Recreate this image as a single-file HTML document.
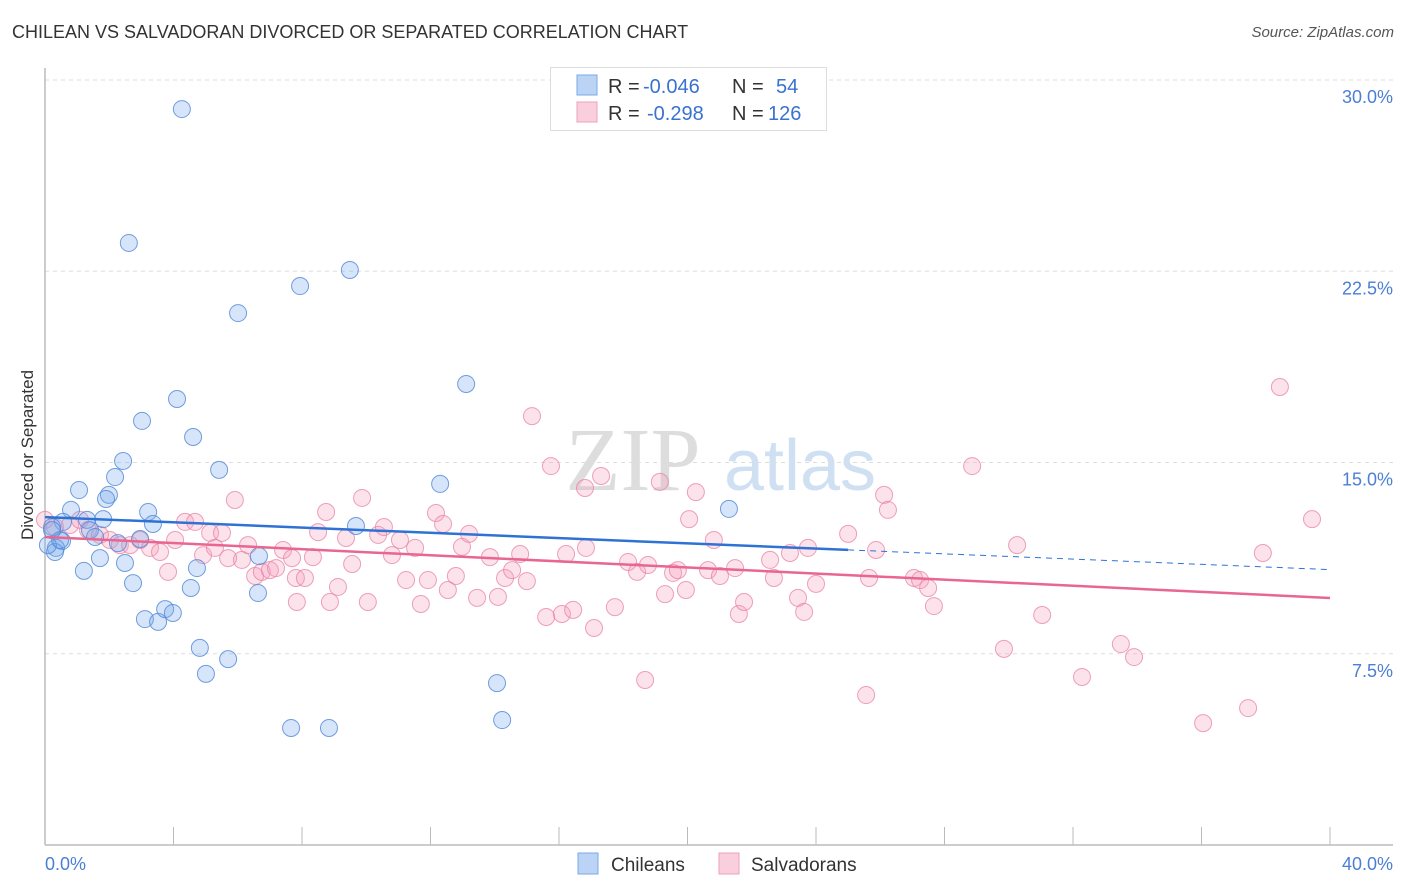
<!DOCTYPE html>
<html><head><meta charset="utf-8">
<style>
body{margin:0;background:#fff;font-family:"Liberation Sans",sans-serif;}
#wrap{position:relative;width:1406px;height:892px;overflow:hidden;}
.t{position:absolute;white-space:nowrap;}
</style></head>
<body>
<div id="wrap">
<div class="t" style="left:12px;top:22px;font-size:18px;color:#333;">CHILEAN VS SALVADORAN DIVORCED OR SEPARATED CORRELATION CHART</div>
<div class="t" style="right:12px;top:24px;font-size:15px;color:#555;font-style:italic;">Source: ZipAtlas.com</div>
<svg id="chart" width="1406" height="892" style="position:absolute;left:0;top:0"></svg>
</div>
<script>
const xTicks=[0,4,8,12,16,20,24,28,32,36,40];
const yTicks=[7.5,15,22.5,30];
const yTickLabels=["7.5%","15.0%","22.5%","30.0%"];
const chileX=[4.26,2.61,9.49,7.94,6.01,13.11,4.11,3.02,4.61,2.43,5.42,2.18,12.30,1.06,1.99,1.90,3.21,21.29,0.81,1.81,3.36,9.68,1.31,0.56,0.22,1.40,1.56,2.27,2.96,0.53,0.34,6.66,2.49,4.73,0.31,1.21,2.74,4.54,6.63,3.11,3.52,3.74,3.98,4.82,5.70,5.01,14.07,7.66,8.84,14.23,0.09,1.71,0.47,0.22];
const chileY=[28.86,23.61,22.55,21.92,20.86,18.08,17.49,16.63,16.00,15.06,14.71,14.43,14.16,13.92,13.73,13.57,13.06,13.18,13.14,12.78,12.59,12.51,12.75,12.67,12.47,12.35,12.08,11.84,12.00,11.92,11.65,11.33,11.06,10.86,11.49,10.75,10.27,10.08,9.88,8.86,8.75,9.25,9.10,7.73,7.29,6.71,6.35,4.59,4.59,4.90,11.76,11.25,11.96,12.35];
const salvX=[0.00,0.31,0.78,1.09,1.34,1.71,2.02,2.33,2.65,2.96,3.27,3.58,3.83,4.05,4.36,4.67,4.92,5.14,5.29,5.51,5.91,5.70,6.13,6.32,6.54,6.75,7.00,7.19,7.41,7.69,7.81,8.09,7.84,8.34,8.50,8.75,8.87,9.12,9.37,9.56,9.87,10.05,10.37,10.55,10.80,11.05,11.24,11.52,11.70,11.92,12.17,12.39,12.54,12.79,12.98,13.20,13.45,13.85,14.10,14.32,14.54,14.79,15.00,15.16,15.60,15.75,16.09,16.22,16.44,16.81,16.84,17.09,17.31,17.74,18.15,18.43,18.68,18.77,19.14,19.30,19.55,19.70,19.95,20.05,20.26,20.64,20.82,21.01,21.48,21.60,21.76,22.57,22.69,23.19,23.44,23.63,23.75,24.00,25.00,25.56,25.65,25.87,26.12,26.24,27.05,27.24,27.49,27.67,28.86,30.26,31.04,29.85,32.28,33.49,33.90,36.05,37.45,37.91,38.44,39.44];
const salvY=[12.75,12.47,12.55,12.75,12.35,12.16,11.96,11.76,11.76,11.96,11.65,11.49,10.71,11.96,12.67,12.67,11.37,12.24,11.65,12.24,13.53,11.25,11.18,11.76,10.55,10.71,10.78,10.86,11.57,11.25,10.47,10.47,9.53,11.29,12.27,13.06,9.53,10.12,12.04,11.02,13.61,9.53,12.16,12.47,11.37,11.96,10.39,11.65,9.45,10.39,13.02,12.59,10.00,10.55,11.69,12.20,9.69,11.29,9.73,10.47,10.78,11.41,10.35,16.82,8.94,14.86,9.06,11.41,9.22,14.00,11.65,8.51,14.47,9.33,11.10,10.71,6.47,10.98,14.24,9.84,10.67,10.78,10.00,12.78,13.84,10.78,11.96,10.55,10.86,9.06,9.53,11.18,10.47,11.45,9.69,9.14,11.65,10.24,12.20,5.88,10.47,11.57,13.73,13.14,10.47,10.39,10.08,9.37,14.86,11.76,9.02,7.69,6.59,7.88,7.37,4.78,5.37,11.45,17.96,12.78];
const chileTrend=[12.86,-0.0515];
const salvTrend=[12.08,-0.0598];
const chileTrendEnd=25;

const NS="http://www.w3.org/2000/svg";
const svg=document.getElementById('chart');
const X0=45,X1=1330,Y0=845,YPER=25.5;
function sx(v){return X0+(v/40)*(X1-X0);}
function sy(v){return Y0-v*YPER;}
function mk(tag,attrs,parent){const e=document.createElementNS(NS,tag);for(const k in attrs)e.setAttribute(k,attrs[k]);(parent||svg).appendChild(e);return e;}

// watermark
const wm1=mk('text',{x:633,y:490,'font-size':90,'font-family':'Liberation Serif, serif',fill:'#ddd','text-anchor':'middle'});
wm1.textContent='ZIP';


const wm2=mk('text',{x:800,y:490,'font-size':72,'font-family':'Liberation Sans, sans-serif',fill:'#cfe0f3','text-anchor':'middle'});
wm2.textContent='atlas';



// gridlines + y labels
yTicks.forEach((v,i)=>{
  const g=mk('line',{x1:X0,x2:1393,y1:sy(v),y2:sy(v),stroke:'#ddd','stroke-dasharray':'4,4'});
  
  
  const t=mk('text',{x:1393,y:sy(v)+23,'font-size':18,fill:'#4a7fd4','text-anchor':'end','font-family':'Liberation Sans, sans-serif'});
  t.textContent=yTickLabels[i];
  
  
});
// axes
const ya=mk('line',{x1:X0,x2:X0,y1:68,y2:Y0,stroke:'#bbb','stroke-width':1.5});


const xa=mk('line',{x1:X0,x2:1393,y1:Y0,y2:Y0,stroke:'#bbb','stroke-width':1.5});


xTicks.forEach(v=>{
  const t=mk('line',{x1:sx(v),x2:sx(v),y1:Y0,y2:Y0-18,stroke:'#bbb'});
  
  
});
const xl0=mk('text',{x:45,y:870,'font-size':18,fill:'#4a7fd4','font-family':'Liberation Sans, sans-serif'});
xl0.textContent='0.0%';


const xl1=mk('text',{x:1393,y:870,'font-size':18,fill:'#4a7fd4','text-anchor':'end','font-family':'Liberation Sans, sans-serif'});
xl1.textContent='40.0%';


const yt=mk('text',{x:0,y:0,'font-size':17,fill:'#333','text-anchor':'middle',transform:'translate(33,455) rotate(-90)','font-family':'Liberation Sans, sans-serif'});
yt.textContent='Divorced or Separated';



// points
salvX.forEach((x,i)=>{
  const c=mk('circle',{cx:sx(x),cy:sy(salvY[i]),r:8.5,fill:'rgba(244,160,190,0.3)',stroke:'rgba(232,130,165,0.75)','stroke-width':1});
  
  
});
chileX.forEach((x,i)=>{
  const c=mk('circle',{cx:sx(x),cy:sy(chileY[i]),r:8.5,fill:'rgba(120,170,235,0.3)',stroke:'rgba(80,135,215,0.8)','stroke-width':1});
  
  
});
// trends
const ct=mk('line',{x1:sx(0),y1:sy(chileTrend[0]),x2:sx(chileTrendEnd),y2:sy(chileTrend[0]+chileTrend[1]*chileTrendEnd),stroke:'#2f72d6','stroke-width':2.5});


const cd=mk('line',{x1:sx(chileTrendEnd),y1:sy(chileTrend[0]+chileTrend[1]*chileTrendEnd),x2:sx(40),y2:sy(chileTrend[0]+chileTrend[1]*40),stroke:'#2f72d6','stroke-width':1,'stroke-dasharray':'6,5'});


const st=mk('line',{x1:sx(0),y1:sy(salvTrend[0]),x2:sx(40),y2:sy(salvTrend[0]+salvTrend[1]*40),stroke:'#e8668f','stroke-width':2.5});



// legend box
const lb=mk('rect',{x:550.5,y:67.5,width:276,height:63,fill:'#fff',stroke:'#ddd'});


const rows=[[75,'rgba(120,170,235,0.5)','#7aa8e6','-0.046',' 54',643,776],[102,'rgba(244,160,190,0.5)','#eda0bb','-0.298','126',647,768]];
rows.forEach(r=>{
  const s=mk('rect',{x:577,y:r[0],width:20,height:20,fill:r[1],stroke:r[2]});
  
  
  const a=mk('text',{x:608,y:r[0]+18,'font-size':20,fill:'#333','font-family':'Liberation Sans, sans-serif'});
  a.textContent='R = ';
  
  
  const b=mk('text',{x:r[5],y:r[0]+18,'font-size':20,fill:'#3a72d0','font-family':'Liberation Sans, sans-serif'});
  b.textContent=r[3];
  
  
  const c=mk('text',{x:732,y:r[0]+18,'font-size':20,fill:'#333','font-family':'Liberation Sans, sans-serif'});
  c.textContent='N = ';
  
  
  const d=mk('text',{x:r[6],y:r[0]+18,'font-size':20,fill:'#3a72d0','font-family':'Liberation Sans, sans-serif'});
  d.textContent=r[4].trim();
  
  
});

// bottom legend
[[578,'rgba(120,170,235,0.5)','#7aa8e6','Chileans',611,'legend-chileans'],[719,'rgba(244,160,190,0.5)','#eda0bb','Salvadorans',751,'legend-salvadorans']].forEach(l=>{
  const s=mk('rect',{x:l[0],y:853,width:20,height:21,fill:l[1],stroke:l[2]});
  
  
  const t=mk('text',{x:l[4],y:871,'font-size':19,fill:'#333','font-family':'Liberation Sans, sans-serif'});
  t.textContent=l[3];
  
  
});
</script>
</body></html>
